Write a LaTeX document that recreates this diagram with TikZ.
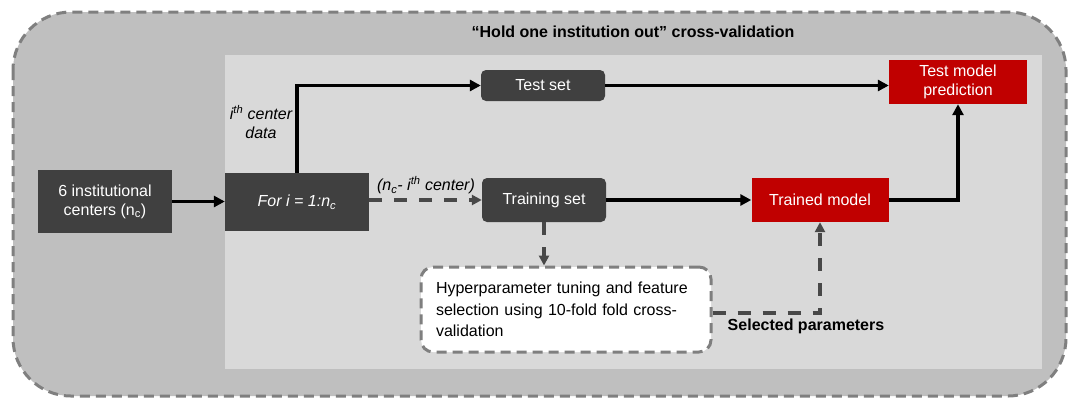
\documentclass[tikz,border=0pt]{standalone}
\usepackage{fontspec}
\setmainfont{Liberation Sans}
\usetikzlibrary{arrows.meta}
\definecolor{boxdark}{HTML}{404040}
\definecolor{outerfill}{HTML}{BFBFBF}
\definecolor{innerfill}{HTML}{D9D9D9}
\definecolor{boxred}{HTML}{C00000}
\definecolor{dashgray}{HTML}{7F7F7F}
\definecolor{arrgray}{HTML}{484848}
\tikzset{
  darkbox/.style={fill=boxdark, text=white, inner sep=0pt, align=center},
  redbox/.style={fill=boxred, text=white, inner sep=0pt, align=center},
  setbox/.style={darkbox, rounded corners=5pt, minimum width=124pt},
  arr/.style={line width=3.5pt, -{Triangle[length=11pt,width=11pt]}},
  darr/.style={line width=3.5pt, arrgray, dash pattern=on 13pt off 12pt, -{Triangle[length=10pt,width=10pt]}},
  lbl/.style={inner sep=0pt, align=center}
}
\begin{document}
\begin{tikzpicture}[x=1pt,y=-1pt, font=\fontsize{16}{19}\selectfont]
\useasboundingbox (0,0) rectangle (1075,399);
% outer panel
\draw[fill=outerfill, draw=dashgray, line width=3pt, dash pattern=on 10pt off 6pt, rounded corners=58pt] (13,12) rectangle (1066,396);
% inner panel
\fill[innerfill] (225,55) rectangle (1042,369);
% title
\node[lbl, font=\fontsize{16}{19}\selectfont\bfseries] (title) at (633,32) {“Hold one institution out” cross-validation};
% nodes
\node[darkbox, minimum width=134pt, minimum height=63pt] (inst) at (105,201.5) {6 institutional\\centers (n\textsubscript{c})};
\node[darkbox, minimum width=144pt, minimum height=58pt, font=\fontsize{16}{19}\selectfont\itshape] (for) at (297,202) {For i = 1:n\textsubscript{c}};
\node[setbox, minimum height=31pt] (test) at (543,85.5) {Test set};
\node[setbox, minimum height=44pt] (train) at (544,200) {Training set};
\node[redbox, minimum width=137pt, minimum height=44pt] (trained) at (820,200) {Trained model};
\node[redbox, minimum width=138pt, minimum height=44pt] (tmp) at (958,82) {Test model\\prediction};
\node[fill=white, draw=dashgray, line width=3pt, dash pattern=on 10pt off 6pt, rounded corners=12pt,
      minimum width=290pt, minimum height=85pt, inner xsep=15pt, inner ysep=0pt, text width=260pt, align=left,
      font=\fontsize{16}{21.5}\selectfont] (hyper) at (566,309.5)
      {Hyperparameter tuning and feature\\selection using 10-fold fold cross-\\validation};
% labels
\node[lbl, font=\fontsize{16}{19}\selectfont\itshape] (ilab) at (261,122) {i\textsuperscript{th} center\\data};
\node[lbl, font=\fontsize{16}{19}\selectfont\itshape] (nlab) at (426,185) {(n\textsubscript{c}- i\textsuperscript{th} center)};
\node[lbl, font=\fontsize{16}{19}\selectfont\bfseries] (sel) at (806,326) {Selected parameters};
% connectors
\draw[arr] (inst.east) -- (inst.east -| for.west);
\draw[arr] (for.north) |- (test.west);
\draw[darr] (train.west -| for.east) -- (train.west);
\draw[arr] (test.east) -- (test.east -| tmp.west);
\draw[arr] (train.east) -- (trained.west);
\draw[arr] (trained.east) -| (tmp.south);
\draw[darr] (train.south) -- (train.south |- hyper.north);
\draw[darr] ([yshift=-3.5pt]hyper.east) -| (trained.south);
\end{tikzpicture}
\end{document}
